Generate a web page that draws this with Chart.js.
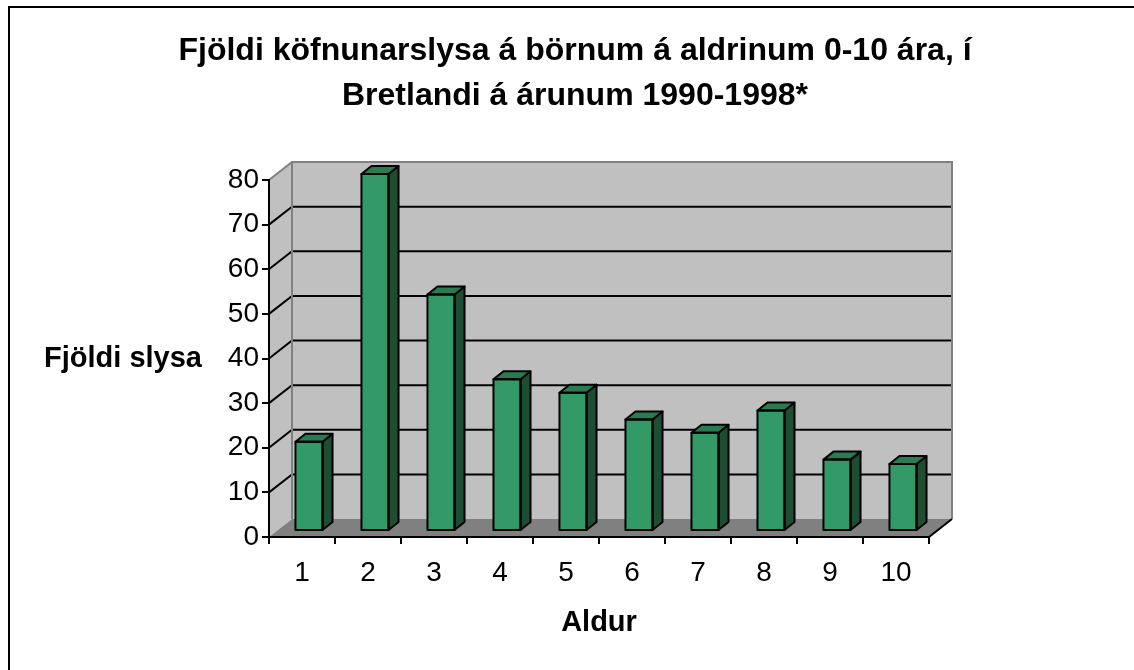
<!DOCTYPE html>
<html>
<head>
<meta charset="utf-8">
<script src="https://cdn.jsdelivr.net/npm/chart.js@4/dist/chart.umd.min.js"></script>
<style>
  html, body { margin: 0; padding: 0; background: #fff; }
  #wrap { width: 1134px; height: 670px; }
</style>
</head>
<body>
<div id="wrap"><canvas id="chart" width="1134" height="670"></canvas></div>
<script>
const titleLines = ['Fjöldi köfnunarslysa á börnum á aldrinum 0-10 ára, í', 'Bretlandi á árunum 1990-1998*'];
const ages = ['1', '2', '3', '4', '5', '6', '7', '8', '9', '10'];
const accidents = [20, 80, 53, 34, 31, 25, 22, 27, 16, 15];
const yTicks = [0, 10, 20, 30, 40, 50, 60, 70, 80];
const xTitle = 'Aldur';
const yTitle = 'Fjöldi slysa';

const FONT = "'Liberation Sans', Arial, sans-serif";

// fake 3d depth (pixels)
const WALL = { dx: 23, dy: -18 };
const BAR_SHIFT = { dx: 7, dy: -6 };
const BAR_DEPTH = { dx: 10, dy: -8 };

const walls = {
    id: 'walls',
    beforeDraw(chart) {
        const { ctx, chartArea: a } = chart;
        const y = chart.scales.y;

        ctx.save();
        ctx.fillStyle = '#fff';
        ctx.fillRect(0, 0, chart.width, chart.height);

        // outer frame
        ctx.strokeStyle = '#000';
        ctx.lineWidth = 2;
        ctx.strokeRect(9, 7, chart.width + 20, chart.height + 20);

        const top = a.top, bottom = a.bottom;
        const bl = a.left + WALL.dx, br = a.right + WALL.dx;

        // side wall + back wall
        ctx.fillStyle = '#c0c0c0';
        ctx.beginPath();
        ctx.moveTo(a.left, bottom);
        ctx.lineTo(bl, bottom + WALL.dy);
        ctx.lineTo(bl, top + WALL.dy);
        ctx.lineTo(a.left, top);
        ctx.closePath();
        ctx.fill();
        ctx.fillRect(bl, top + WALL.dy, br - bl, bottom - top);

        // floor
        ctx.fillStyle = '#808080';
        ctx.beginPath();
        ctx.moveTo(a.left, bottom);
        ctx.lineTo(a.right, bottom);
        ctx.lineTo(br, bottom + WALL.dy);
        ctx.lineTo(bl, bottom + WALL.dy);
        ctx.closePath();
        ctx.fill();

        // gridlines on the walls
        ctx.strokeStyle = '#000';
        ctx.lineWidth = 2;
        yTicks.slice(1, -1).forEach(v => {
            const py = y.getPixelForValue(v);
            ctx.beginPath();
            ctx.moveTo(a.left, py);
            ctx.lineTo(bl, py + WALL.dy);
            ctx.lineTo(br, py + WALL.dy);
            ctx.stroke();
        });

        // wall edges
        ctx.strokeStyle = '#808080';
        ctx.beginPath();
        ctx.moveTo(a.left, top);
        ctx.lineTo(bl, top + WALL.dy);
        ctx.lineTo(br, top + WALL.dy);
        ctx.lineTo(br, bottom + WALL.dy);
        ctx.moveTo(bl, top + WALL.dy);
        ctx.lineTo(bl, bottom + WALL.dy);
        ctx.stroke();

        ctx.strokeStyle = '#000';
        ctx.beginPath();
        ctx.moveTo(a.right, bottom);
        ctx.lineTo(br, bottom + WALL.dy);
        ctx.stroke();

        // y axis title, horizontal
        ctx.fillStyle = '#000';
        ctx.font = 'bold 29px ' + FONT;
        ctx.textAlign = 'center';
        ctx.textBaseline = 'middle';
        ctx.fillText(yTitle, 123, y.getPixelForValue(40));
        ctx.restore();
    }
};

const bars3d = {
    id: 'bars3d',
    beforeDatasetsDraw(chart) {
        chart.ctx.save();
        chart.ctx.translate(BAR_SHIFT.dx, BAR_SHIFT.dy);
    },
    afterDatasetsDraw(chart) {
        const ctx = chart.ctx;
        ctx.lineWidth = 2;
        ctx.strokeStyle = '#000';
        ctx.lineJoin = 'round';
        chart.getDatasetMeta(0).data.forEach(el => {
            const x0 = el.x - el.width / 2, x1 = el.x + el.width / 2;
            const t = el.y, b = el.base;

            // side face
            ctx.fillStyle = '#1d4d33';
            ctx.beginPath();
            ctx.moveTo(x1, t);
            ctx.lineTo(x1 + BAR_DEPTH.dx, t + BAR_DEPTH.dy);
            ctx.lineTo(x1 + BAR_DEPTH.dx, b + BAR_DEPTH.dy);
            ctx.lineTo(x1, b);
            ctx.closePath();
            ctx.fill();
            ctx.stroke();

            // top face
            ctx.fillStyle = '#2a7a52';
            ctx.beginPath();
            ctx.moveTo(x0, t);
            ctx.lineTo(x0 + BAR_DEPTH.dx, t + BAR_DEPTH.dy);
            ctx.lineTo(x1 + BAR_DEPTH.dx, t + BAR_DEPTH.dy);
            ctx.lineTo(x1, t);
            ctx.closePath();
            ctx.fill();
            ctx.stroke();

            // front outline
            ctx.strokeRect(x0, t, x1 - x0, b - t);
        });
        ctx.restore();
    }
};

new Chart(document.getElementById('chart'), {
    type: 'bar',
    data: {
        labels: ages,
        datasets: [{
            data: accidents,
            backgroundColor: '#339966',
            borderColor: '#000',
            borderWidth: 0,
            barPercentage: 0.41,
            categoryPercentage: 1,
            clip: false
        }]
    },
    options: {
        responsive: false,
        animation: false,
        devicePixelRatio: 1,
        layout: { padding: { left: 16, right: 0, top: 0, bottom: 0 } },
        plugins: {
            legend: { display: false },
            tooltip: { enabled: false },
            title: {
                display: true,
                text: titleLines,
                color: '#000',
                font: { family: FONT, size: 32, weight: 'bold', lineHeight: 1.40625 },
                padding: { top: 29, bottom: 61 }
            }
        },
        scales: {
            x: {
                grid: { offset: true, drawOnChartArea: false, drawTicks: true, tickLength: 7, color: '#000', lineWidth: 2 },
                border: { display: true, color: '#000', width: 2 },
                ticks: { color: '#000', font: { family: FONT, size: 28 }, padding: 12, maxRotation: 0 },
                title: {
                    display: true,
                    text: xTitle,
                    color: '#000',
                    font: { family: FONT, size: 29, weight: 'bold' },
                    padding: { top: 0, bottom: 30 }
                },
                afterFit(scale) { scale.height = 133; }
            },
            y: {
                min: 0,
                max: 80,
                grid: { drawOnChartArea: false, drawTicks: true, tickLength: 7, color: '#000', lineWidth: 2 },
                border: { display: true, color: '#000', width: 2 },
                ticks: { stepSize: 10, color: '#000', font: { family: FONT, size: 28 }, padding: 3 },
                afterFit(scale) { scale.width = 253; }
            },
            // empty right-hand axis that only reserves the space for the 3d walls
            side: {
                position: 'right',
                display: true,
                grid: { display: false },
                border: { display: false },
                ticks: { display: false },
                afterFit(scale) { scale.width = 205; }
            }
        }
    },
    plugins: [walls, bars3d]
});
</script>
</body>
</html>
